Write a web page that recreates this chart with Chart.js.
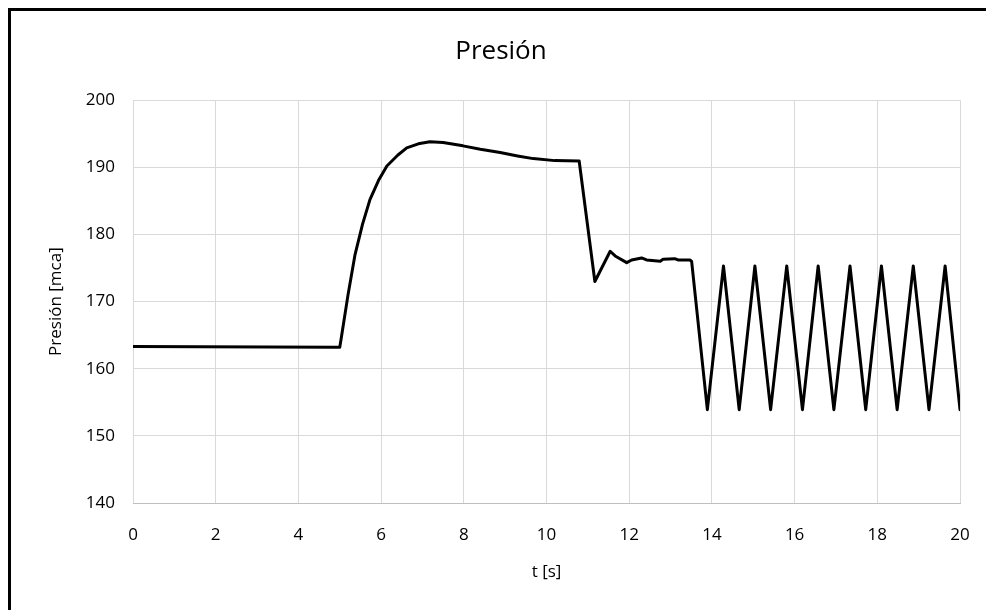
<!DOCTYPE html>
<html>
<head>
<meta charset="utf-8">
<script src="https://cdn.jsdelivr.net/npm/chart.js@4"></script>
<style>
  html, body { margin: 0; padding: 0; background: #fff; }
  #wrap { position: absolute; left: 0; top: 0; width: 986px; height: 610px; }
</style>
</head>
<body>
<div id="wrap"><canvas id="c" width="986" height="610"></canvas></div>
<script>
const chartTitle = "Presión";
const xTitle = "t [s]";
const yTitle = "Presión [mca]";
const xTicks = [0, 2, 4, 6, 8, 10, 12, 14, 16, 18, 20];
const yTicks = [140, 150, 160, 170, 180, 190, 200];

const time = [0, 4.9, 5.0, 5.03, 5.2, 5.37, 5.55, 5.73, 5.95, 6.14, 6.4, 6.62, 6.9, 7.18, 7.5, 7.98, 8.4, 8.88, 9.3, 9.68, 10.2, 10.79,
  11.17, 11.54, 11.66, 11.94, 12.06, 12.3, 12.42, 12.75, 12.82, 13.1, 13.18, 13.47, 13.51,
  13.89, 14.28, 14.66, 15.04, 15.42, 15.81, 16.19, 16.57, 16.95, 17.34, 17.72, 18.1, 18.48, 18.87, 19.25, 19.64, 20.0];
const pressure = [163.3, 163.2, 163.2, 164.3, 171.0, 177.0, 181.5, 185.2, 188.2, 190.2, 191.8, 192.9, 193.5, 193.8, 193.7, 193.2, 192.7, 192.2, 191.7, 191.3, 191.0, 190.95,
  173.0, 177.5, 176.8, 175.8, 176.2, 176.5, 176.2, 176.0, 176.3, 176.4, 176.2, 176.2, 176.0,
  153.9, 175.3, 153.9, 175.3, 153.9, 175.3, 153.9, 175.3, 153.9, 175.3, 153.9, 175.3, 153.9, 175.3, 153.9, 175.3, 153.9];

const points = time.map((t, i) => ({ x: t, y: pressure[i] }));

const FONT = "'Open Sans', 'Noto Sans', sans-serif";

const framePlugin = {
  id: 'frame',
  afterDraw(chart) {
    const ctx = chart.ctx;
    ctx.save();
    ctx.fillStyle = '#000';
    ctx.fillRect(8, 8, 986 - 8, 3);
    ctx.fillRect(8, 8, 3, 610 - 8);
    ctx.restore();
  }
};

new Chart(document.getElementById('c'), {
  type: 'line',
  data: {
    datasets: [{
      data: points,
      borderColor: '#000',
      borderWidth: 3,
      borderJoinStyle: 'round',
      borderCapStyle: 'round',
      pointRadius: 0,
      tension: 0,
      fill: false
    }]
  },
  options: {
    responsive: false,
    animation: false,
    layout: { padding: { left: 42, right: 26, top: 0, bottom: 24 } },
    plugins: {
      legend: { display: false },
      tooltip: { enabled: false },
      title: {
        display: true,
        text: chartTitle,
        color: '#000',
        font: { family: FONT, size: 26, weight: 'normal' },
        padding: { top: 36, bottom: 33 }
      }
    },
    scales: {
      x: {
        type: 'linear',
        min: 0, max: 20,
        afterBuildTicks(scale) { scale.ticks = xTicks.map(v => ({ value: v })); },
        afterFit(scale) { scale.height = 83; scale.paddingLeft = 0; scale.paddingRight = 0; },
        grid: { color: '#d9d9d9', lineWidth: 1, drawTicks: false },
        border: { display: true, color: '#bfbfbf' },
        ticks: { color: '#000', font: { family: FONT, size: 17 }, padding: 22, maxRotation: 0 },
        title: { display: true, text: xTitle, color: '#000', font: { family: FONT, size: 17 }, padding: { top: 4, bottom: 4 } }
      },
      y: {
        type: 'linear',
        min: 140, max: 200,
        afterBuildTicks(scale) { scale.ticks = yTicks.map(v => ({ value: v })); },
        afterFit(scale) { scale.width = 91; },
        grid: { color: '#d9d9d9', lineWidth: 1, drawTicks: false },
        border: { display: false },
        ticks: { color: '#000', font: { family: FONT, size: 17 }, padding: 18 },
        title: { display: true, text: yTitle, color: '#000', font: { family: FONT, size: 17 }, padding: { top: 4, bottom: 4 } }
      }
    }
  },
  plugins: [framePlugin]
});
</script>
</body>
</html>
